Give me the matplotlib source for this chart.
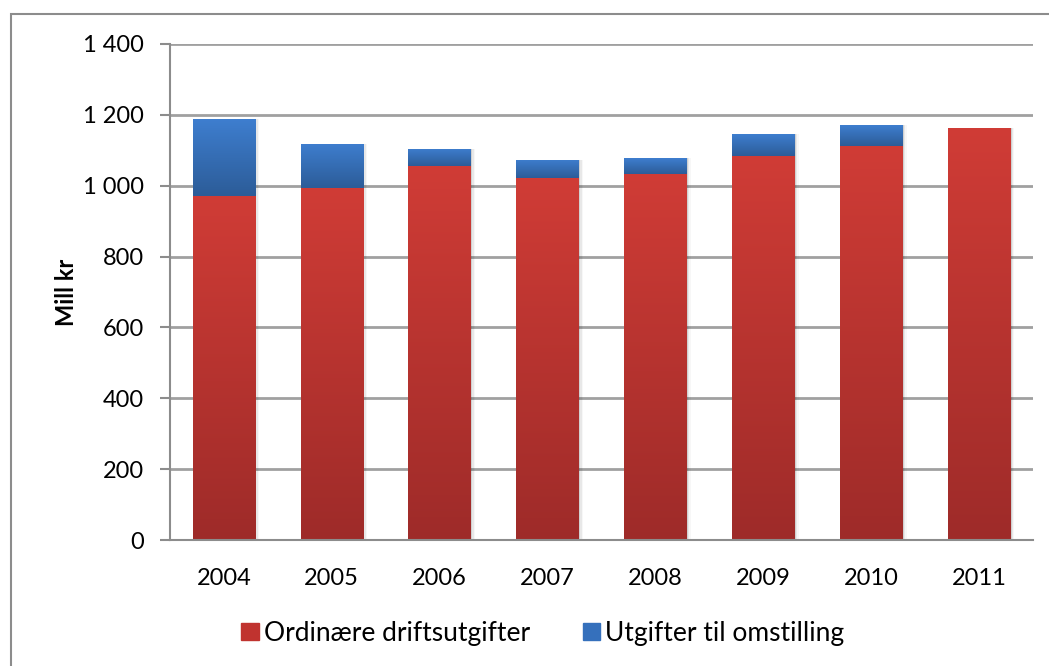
import numpy as np
import matplotlib.pyplot as plt
from matplotlib.colors import LinearSegmentedColormap
from matplotlib.patches import Rectangle

years = ['2004', '2005', '2006', '2007', '2008', '2009', '2010', '2011']
ordinaere = [972, 993, 1055, 1021, 1034, 1085, 1113, 1163]
omstilling = [217, 125, 49, 52, 45, 61, 59, 0]
series_names = ['Ordinære driftsutgifter', 'Utgifter til omstilling']
yticks = [0, 200, 400, 600, 800, 1000, 1200, 1400]

plt.rcParams['font.family'] = ['Lato', 'DejaVu Sans']

red_cm = LinearSegmentedColormap.from_list('r', ['#9E2B29', '#D03C36'])
blue_cm = LinearSegmentedColormap.from_list('b', ['#2C5C98', '#3E7ECF'])
grad = np.linspace(0, 1, 256).reshape(-1, 1)

fig = plt.figure(figsize=(10.49, 6.66), dpi=100)
ax = fig.add_axes([0.162, 0.189, 0.823, 0.745])

# outer chart frame
fig.patches.append(Rectangle((11 / 1049, -0.1), 1.2, 1.1 - 14 / 666, transform=fig.transFigure,
                             fill=False, edgecolor='#8C8C8C', linewidth=1.5))

x = np.arange(len(years))
w = 0.58
bars1 = ax.bar(x, ordinaere, w, color='#CC3A35', zorder=2, label=series_names[0])
bars2 = ax.bar(x, omstilling, w, bottom=ordinaere, color='#3A78C8', zorder=2, label=series_names[1])

def shade(bars, cmap):
    for b in bars:
        if b.get_height() <= 0:
            continue
        x0, y0 = b.get_x(), b.get_y()
        # soft shadow on the right side
        for k, a in enumerate([0.10, 0.06, 0.03]):
            ax.add_patch(Rectangle((x0 + 0.012 * (k + 1), y0), b.get_width(), b.get_height(),
                                   color='black', alpha=a, zorder=1.5, linewidth=0))
        im = ax.imshow(grad, cmap=cmap, aspect='auto', origin='lower',
                       extent=(x0, x0 + b.get_width(), y0, y0 + b.get_height()), zorder=2.5)
        im.set_clip_path(b)

shade(bars1, red_cm)
shade(bars2, blue_cm)

ax.set_xlim(-0.5, len(years) - 0.5)
ax.set_ylim(0, 1400)
ax.set_yticks(yticks)
ax.set_yticklabels([f'{v:,}'.replace(',', ' ') for v in yticks], fontsize=17)
ax.set_xticks(x)
ax.set_xticklabels(years, fontsize=17)
ax.tick_params(axis='x', length=0, pad=20)
ax.tick_params(axis='y', length=7, color='#8C8C8C', width=1.5, pad=12)
ax.yaxis.grid(True, color='#A0A0A0', linewidth=2, zorder=0)
ax.set_axisbelow(True)
for s in ['top', 'right']:
    ax.spines[s].set_visible(False)
for s in ['left', 'bottom']:
    ax.spines[s].set_color('#8C8C8C')
    ax.spines[s].set_linewidth(1.5)
ax.set_ylabel('Mill kr', fontsize=17, fontweight='bold', labelpad=3)

leg = ax.legend(loc='upper center', bbox_to_anchor=(0.432, -0.115), ncol=2, frameon=False,
                fontsize=19, handlelength=0.65, handleheight=0.65, handletextpad=0.2,
                columnspacing=2.0)
leg.legend_handles[0].set_color('#C0332F')
leg.legend_handles[1].set_color('#3570BC')

fig.savefig('out.png', dpi=100)
